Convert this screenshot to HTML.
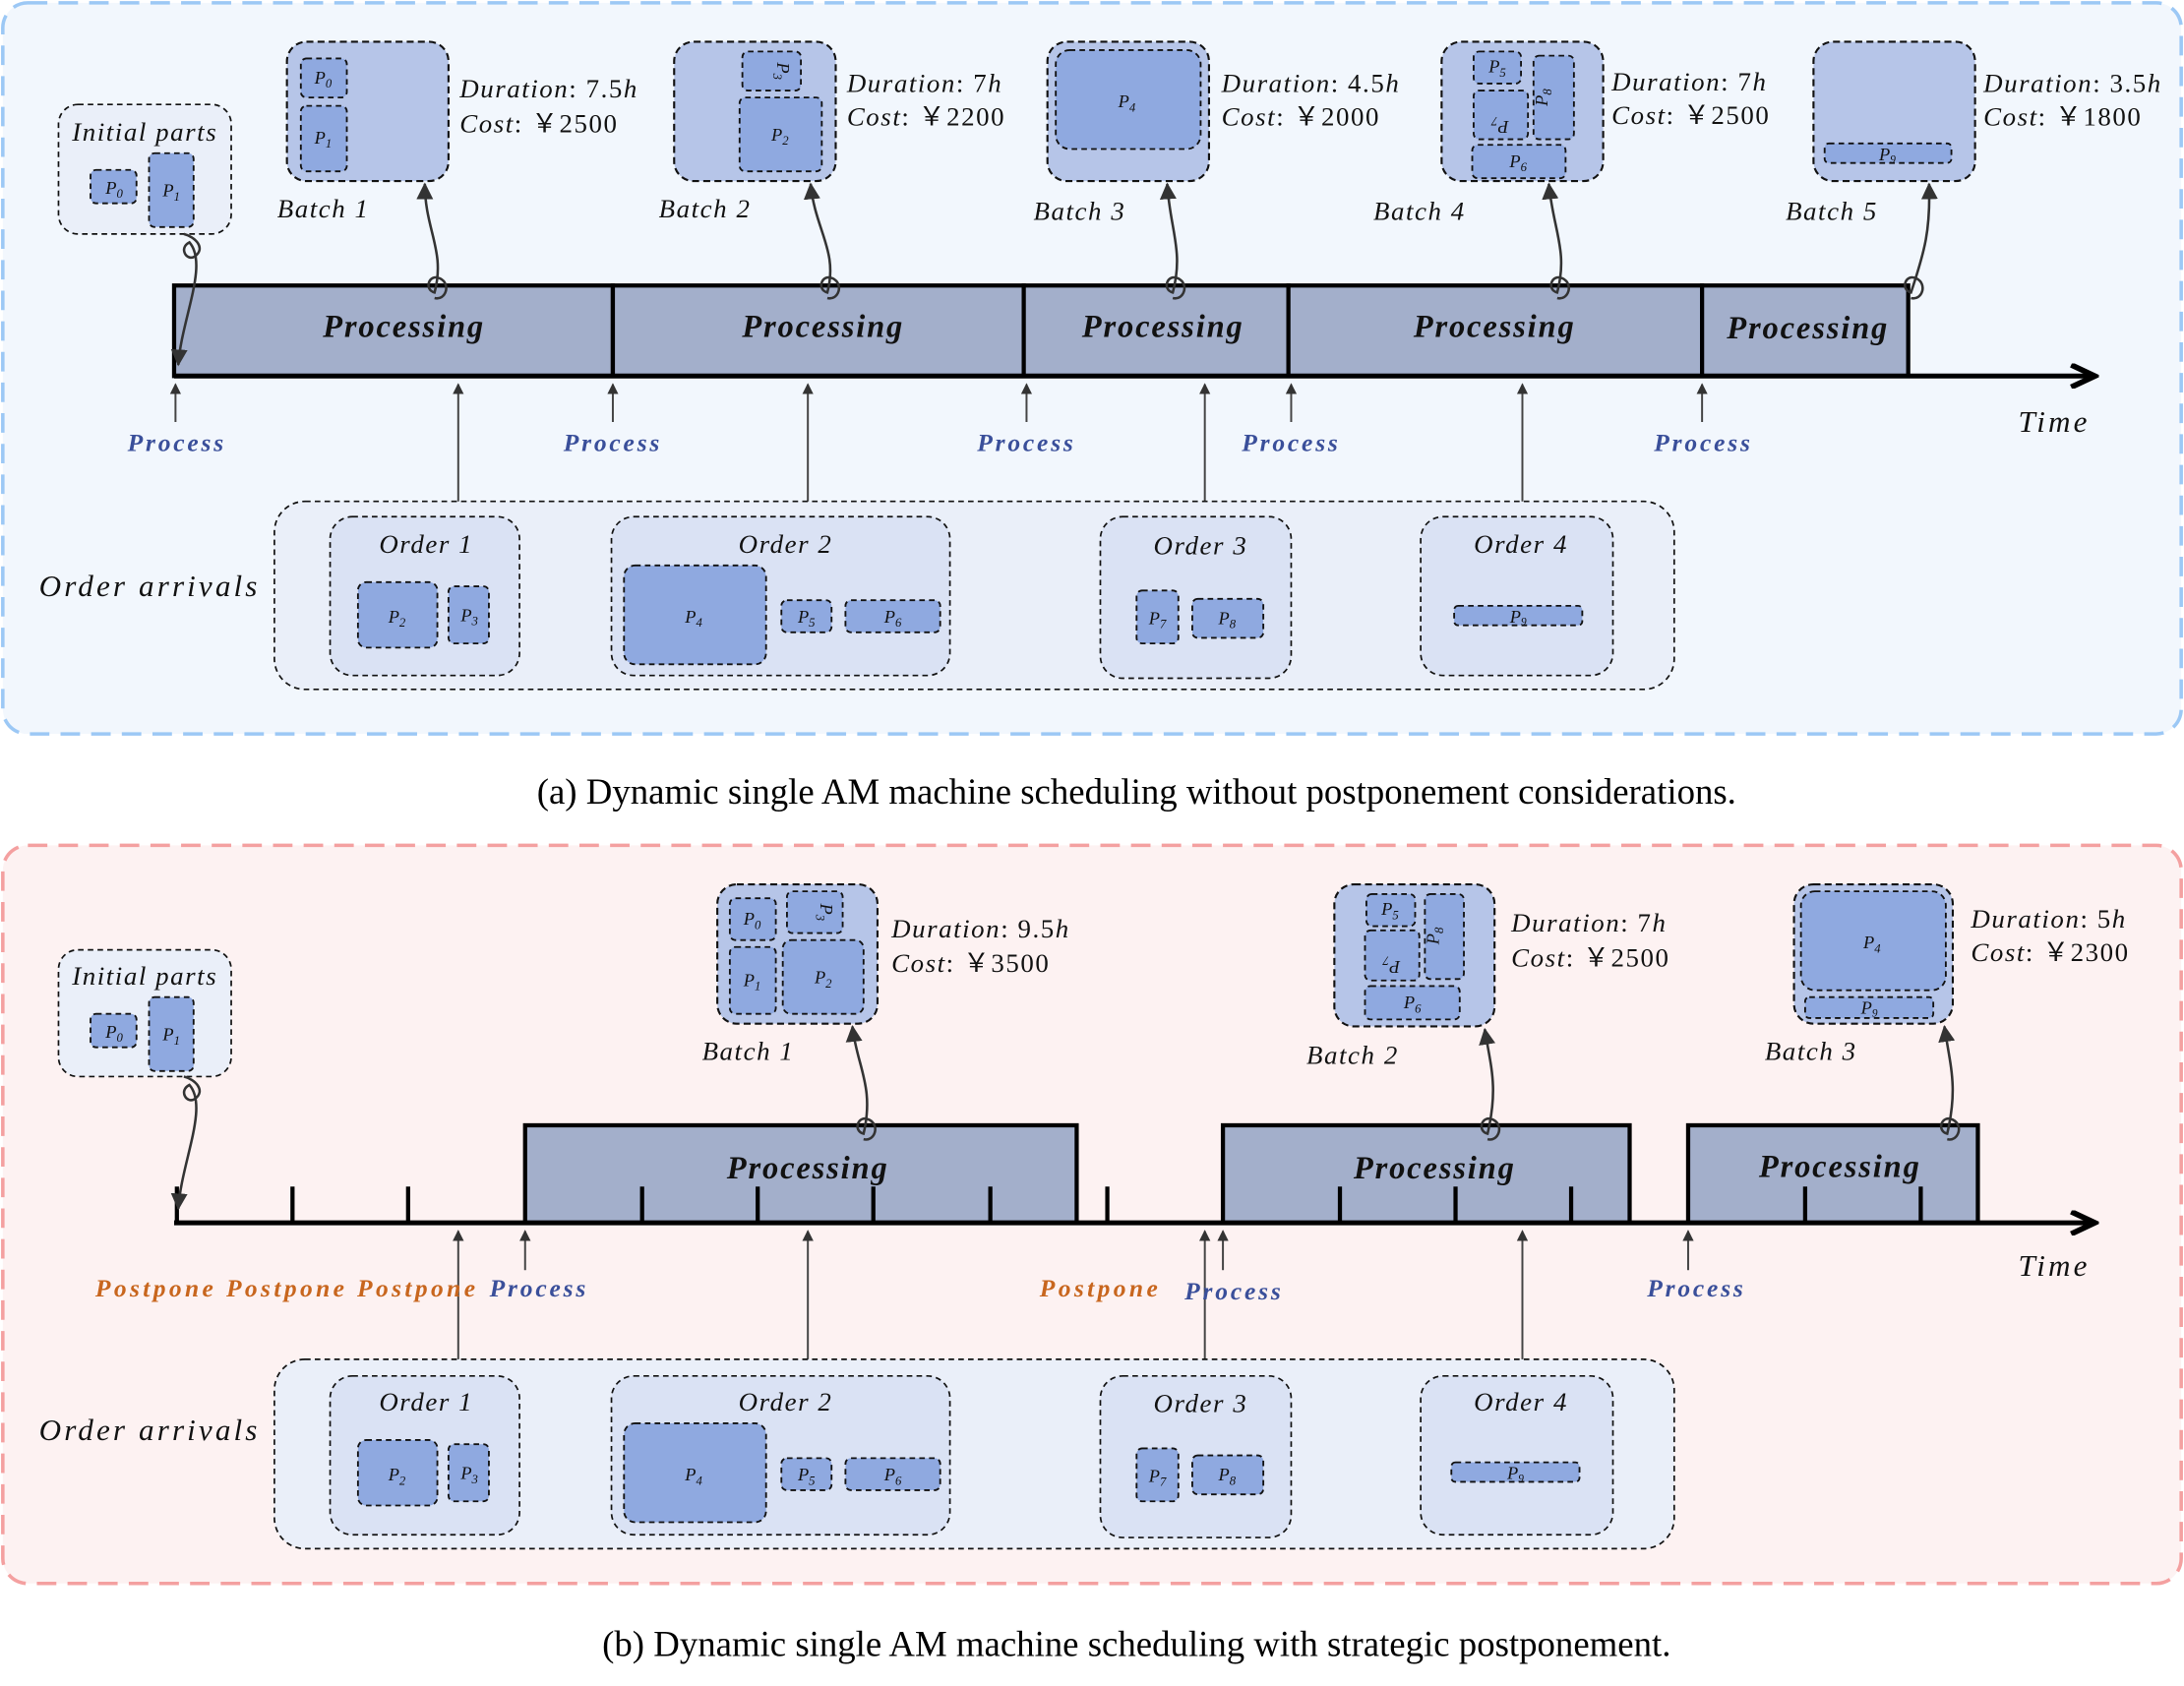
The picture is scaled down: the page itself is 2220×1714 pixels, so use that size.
<!DOCTYPE html>
<html><head><meta charset="utf-8"><style>
html,body{margin:0;padding:0;background:#fff;}
svg{display:block;}
text{font-family:"Liberation Serif",serif;}
.lab{font-style:italic;font-size:19px;fill:#111;letter-spacing:1.1px;}
.pt{font-style:italic;font-size:13px;fill:#111;text-anchor:middle;}
.proc{font-style:italic;font-weight:bold;font-size:23px;fill:#111;text-anchor:middle;letter-spacing:1.3px;}
.pb{font-style:italic;font-weight:bold;font-size:18px;fill:#3a4f9a;text-anchor:middle;letter-spacing:2px;}
.po{font-style:italic;font-weight:bold;font-size:18px;fill:#c8661e;text-anchor:middle;letter-spacing:2.4px;}
.part{fill:#8fa9e0;stroke:#111;stroke-width:1.3;stroke-dasharray:4 3;}
.bat{fill:#b6c5e8;stroke:#111;stroke-width:1.5;stroke-dasharray:5 3;}
.ord{fill:#dae2f4;stroke:#111;stroke-width:1.2;stroke-dasharray:4 3;}
.oa{fill:#eaeff9;stroke:#111;stroke-width:1.2;stroke-dasharray:4 3;}
.bar{fill:#a3afcb;stroke:#000;stroke-width:3;}
.ax{stroke:#000;stroke-width:3.5;fill:none;}
.ar{stroke:#444;stroke-width:1.4;fill:none;}
.cur{stroke:#333;stroke-width:1.8;fill:none;}
.cap{font-size:26px;text-anchor:middle;}
.big{font-style:italic;font-size:22px;fill:#111;letter-spacing:2.2px;}
</style></head><body>
<svg width="2220" height="1714" viewBox="0 0 1568 1210.6" xmlns="http://www.w3.org/2000/svg">
<defs>
<marker id="ah" markerWidth="8" markerHeight="8" refX="7" refY="4" orient="auto" markerUnits="userSpaceOnUse"><path d="M0,0 L8,4 L0,8 Z" fill="#333"/></marker>
<marker id="bh" markerWidth="12" markerHeight="12" refX="11" refY="6" orient="auto" markerUnits="userSpaceOnUse"><path d="M0,0 L12,6 L0,12 Z" fill="#333"/></marker>
<marker id="tx" markerWidth="22" markerHeight="18" refX="18" refY="9" orient="auto" markerUnits="userSpaceOnUse"><path d="M2,1 L19,9 L2,17" fill="none" stroke="#000" stroke-width="4"/></marker>
</defs>

<!-- Panel A -->
<rect x="2" y="2" width="1564" height="525" rx="18" fill="#f2f7fd" stroke="#9cc8f5" stroke-width="2.5" stroke-dasharray="14 8"/>
<text class="cap" x="816" y="577">(a) Dynamic single AM machine scheduling without postponement considerations.</text>

<rect class="oa" x="42" y="75" width="124" height="93" rx="14"/>
<text class="lab" x="104" y="101" text-anchor="middle">Initial parts</text>
<rect class="part" x="65" y="122" width="33" height="24" rx="4"/><text class="pt" x="82" y="139">P<tspan font-size="9" dy="3">0</tspan></text>
<rect class="part" x="107" y="110" width="32" height="53" rx="4"/><text class="pt" x="123" y="141">P<tspan font-size="9" dy="3">1</tspan></text>

<rect class="bar" x="125" y="205" width="315" height="65"/>
<rect class="bar" x="440" y="205" width="295" height="65"/>
<rect class="bar" x="735" y="205" width="190" height="65"/>
<rect class="bar" x="925" y="205" width="297" height="65"/>
<rect class="bar" x="1222" y="205" width="148" height="65"/>
<line class="ax" x1="125" y1="270" x2="1503" y2="270" marker-end="url(#tx)"/>
<text class="proc" x="290" y="242">Processing</text>
<text class="proc" x="591" y="242">Processing</text>
<text class="proc" x="835" y="242">Processing</text>
<text class="proc" x="1073" y="242">Processing</text>
<text class="proc" x="1298" y="243">Processing</text>
<text class="big" x="1449" y="310">Time</text>
<g class="ar">
<line x1="126" y1="303" x2="126" y2="276" marker-end="url(#ah)"/>
<line x1="440" y1="303" x2="440" y2="276" marker-end="url(#ah)"/>
<line x1="737" y1="303" x2="737" y2="276" marker-end="url(#ah)"/>
<line x1="927" y1="303" x2="927" y2="276" marker-end="url(#ah)"/>
<line x1="1222" y1="303" x2="1222" y2="276" marker-end="url(#ah)"/>
<line x1="329" y1="370" x2="329" y2="276" marker-end="url(#ah)"/>
<line x1="580" y1="370" x2="580" y2="276" marker-end="url(#ah)"/>
<line x1="865" y1="370" x2="865" y2="276" marker-end="url(#ah)"/>
<line x1="1093" y1="370" x2="1093" y2="276" marker-end="url(#ah)"/>
</g>
<text class="pb" x="127" y="324">Process</text>
<text class="pb" x="440" y="324">Process</text>
<text class="pb" x="737" y="324">Process</text>
<text class="pb" x="927" y="324">Process</text>
<text class="pb" x="1223" y="324">Process</text>

<path class="cur" d="M132 168 c 8 2 16 10 8 16 c -6 4 -12 -6 -4 -10 C 150 190, 130 230, 128 262" marker-end="url(#bh)"/>
<path class="cur" d="M312 214 c 8 2 12 -10 4 -14 c -8 -4 -12 8 -4 10 C 320 180, 305 165, 305 132" marker-end="url(#bh)"/>
<path class="cur" d="M594 214 c 8 2 12 -10 4 -14 c -8 -4 -12 8 -4 10 C 602 180, 585 165, 582 132" marker-end="url(#bh)"/>
<path class="cur" d="M842 214 c 8 2 12 -10 4 -14 c -8 -4 -12 8 -4 10 C 850 180, 840 165, 838 132" marker-end="url(#bh)"/>
<path class="cur" d="M1118 214 c 8 2 12 -10 4 -14 c -8 -4 -12 8 -4 10 C 1126 180, 1115 165, 1112 132" marker-end="url(#bh)"/>
<path class="cur" d="M1372 214 c 8 2 12 -10 4 -14 c -8 -4 -12 8 -4 10 C 1382 180, 1386 165, 1385 132" marker-end="url(#bh)"/>

<rect class="bat" x="206" y="30" width="116" height="100" rx="14"/>
<rect class="part" x="216" y="42" width="33" height="28" rx="4"/><text class="pt" x="232" y="60">P<tspan font-size="9" dy="3">0</tspan></text>
<rect class="part" x="216" y="76" width="33" height="47" rx="4"/><text class="pt" x="232" y="103">P<tspan font-size="9" dy="3">1</tspan></text>
<text class="lab" x="330" y="70">Duration<tspan font-style="normal">: 7.5</tspan>h</text>
<text class="lab" x="330" y="95">Cost<tspan font-style="normal">: ￥2500</tspan></text>
<text class="lab" x="199" y="156">Batch 1</text>

<rect class="bat" x="484" y="30" width="116" height="100" rx="14"/>
<rect class="part" x="533" y="37" width="42" height="28" rx="4"/><text class="pt" x="554" y="47" transform="rotate(90 554 51)">P<tspan font-size="9" dy="3">3</tspan></text>
<rect class="part" x="531" y="70" width="59" height="53" rx="4"/><text class="pt" x="560" y="101">P<tspan font-size="9" dy="3">2</tspan></text>
<text class="lab" x="608" y="66">Duration<tspan font-style="normal">: 7</tspan>h</text>
<text class="lab" x="608" y="90">Cost<tspan font-style="normal">: ￥2200</tspan></text>
<text class="lab" x="473" y="156">Batch 2</text>

<rect class="bat" x="752" y="30" width="116" height="100" rx="14"/>
<rect class="part" x="758" y="36" width="104" height="71" rx="10"/><text class="pt" x="809" y="77">P<tspan font-size="9" dy="3">4</tspan></text>
<text class="lab" x="877" y="66">Duration<tspan font-style="normal">: 4.5</tspan>h</text>
<text class="lab" x="877" y="90">Cost<tspan font-style="normal">: ￥2000</tspan></text>
<text class="lab" x="742" y="158">Batch 3</text>

<rect class="bat" x="1035" y="30" width="116" height="100" rx="14"/>
<rect class="part" x="1058" y="37" width="34" height="23" rx="4"/><text class="pt" x="1075" y="52">P<tspan font-size="9" dy="3">5</tspan></text>
<rect class="part" x="1058" y="65" width="39" height="35" rx="4"/><text class="pt" x="1077" y="79" transform="rotate(180 1077 83)">P<tspan font-size="9" dy="3">7</tspan></text>
<rect class="part" x="1101" y="40" width="29" height="60" rx="4"/><text class="pt" x="1115" y="66" transform="rotate(-90 1115 70)">P<tspan font-size="9" dy="3">8</tspan></text>
<rect class="part" x="1057" y="104" width="67" height="24" rx="4"/><text class="pt" x="1090" y="120">P<tspan font-size="9" dy="3">6</tspan></text>
<text class="lab" x="1157" y="65">Duration<tspan font-style="normal">: 7</tspan>h</text>
<text class="lab" x="1157" y="89">Cost<tspan font-style="normal">: ￥2500</tspan></text>
<text class="lab" x="986" y="158">Batch 4</text>

<rect class="bat" x="1302" y="30" width="116" height="100" rx="14"/>
<rect class="part" x="1310" y="103" width="91" height="14" rx="3"/><text class="pt" x="1355" y="115" font-size="11">P<tspan font-size="8" dy="2">9</tspan></text>
<text class="lab" x="1424" y="66">Duration<tspan font-style="normal">: 3.5</tspan>h</text>
<text class="lab" x="1424" y="90">Cost<tspan font-style="normal">: ￥1800</tspan></text>
<text class="lab" x="1282" y="158">Batch 5</text>

<text class="big" x="28" y="428">Order arrivals</text>
<rect class="oa" x="197" y="360" width="1005" height="135" rx="22"/>
<rect class="ord" x="237" y="371" width="136" height="114" rx="16"/>
<text class="lab" x="306" y="397" text-anchor="middle">Order 1</text>
<rect class="part" x="257" y="418" width="57" height="47" rx="6"/><text class="pt" x="285" y="447">P<tspan font-size="9" dy="3">2</tspan></text>
<rect class="part" x="322" y="421" width="29" height="41" rx="4"/><text class="pt" x="337" y="446">P<tspan font-size="9" dy="3">3</tspan></text>
<rect class="ord" x="439" y="371" width="243" height="114" rx="16"/>
<text class="lab" x="564" y="397" text-anchor="middle">Order 2</text>
<rect class="part" x="448" y="406" width="102" height="71" rx="8"/><text class="pt" x="498" y="447">P<tspan font-size="9" dy="3">4</tspan></text>
<rect class="part" x="561" y="431" width="36" height="23" rx="4"/><text class="pt" x="579" y="447">P<tspan font-size="9" dy="3">5</tspan></text>
<rect class="part" x="607" y="431" width="68" height="23" rx="4"/><text class="pt" x="641" y="447">P<tspan font-size="9" dy="3">6</tspan></text>
<rect class="ord" x="790" y="371" width="137" height="116" rx="16"/>
<text class="lab" x="862" y="398" text-anchor="middle">Order 3</text>
<rect class="part" x="816" y="424" width="30" height="38" rx="4"/><text class="pt" x="831" y="448">P<tspan font-size="9" dy="3">7</tspan></text>
<rect class="part" x="856" y="430" width="51" height="28" rx="4"/><text class="pt" x="881" y="448">P<tspan font-size="9" dy="3">8</tspan></text>
<rect class="ord" x="1020" y="371" width="138" height="114" rx="16"/>
<text class="lab" x="1092" y="397" text-anchor="middle">Order 4</text>
<rect class="part" x="1044" y="435" width="92" height="14" rx="3"/><text class="pt" x="1090" y="447" font-size="11">P<tspan font-size="8" dy="2">9</tspan></text>

<!-- Panel B -->
<rect x="2" y="607" width="1564" height="530" rx="18" fill="#fdf2f2" stroke="#f4a0a0" stroke-width="2.5" stroke-dasharray="14 8"/>
<text class="cap" x="816" y="1189">(b) Dynamic single AM machine scheduling with strategic postponement.</text>

<rect class="oa" x="42" y="682" width="124" height="91" rx="14"/>
<text class="lab" x="104" y="707" text-anchor="middle">Initial parts</text>
<rect class="part" x="65" y="728" width="33" height="24" rx="4"/><text class="pt" x="82" y="745">P<tspan font-size="9" dy="3">0</tspan></text>
<rect class="part" x="107" y="716" width="32" height="53" rx="4"/><text class="pt" x="123" y="747">P<tspan font-size="9" dy="3">1</tspan></text>

<rect class="bar" x="377" y="808" width="396" height="70"/>
<rect class="bar" x="878" y="808" width="292" height="70"/>
<rect class="bar" x="1212" y="808" width="208" height="70"/>
<line class="ax" x1="125" y1="878" x2="1503" y2="878" marker-end="url(#tx)"/>
<g stroke="#000" stroke-width="3">
<line x1="127" y1="852" x2="127" y2="878"/><line x1="210" y1="852" x2="210" y2="878"/><line x1="293" y1="852" x2="293" y2="878"/><line x1="795" y1="852" x2="795" y2="878"/>
<line x1="461" y1="852" x2="461" y2="878"/><line x1="544" y1="852" x2="544" y2="878"/><line x1="627" y1="852" x2="627" y2="878"/><line x1="711" y1="852" x2="711" y2="878"/>
<line x1="962" y1="852" x2="962" y2="878"/><line x1="1045" y1="852" x2="1045" y2="878"/><line x1="1128" y1="852" x2="1128" y2="878"/>
<line x1="1296" y1="852" x2="1296" y2="878"/><line x1="1379" y1="852" x2="1379" y2="878"/>
</g>
<text class="proc" x="580" y="846">Processing</text>
<text class="proc" x="1030" y="846">Processing</text>
<text class="proc" x="1321" y="845">Processing</text>
<text class="big" x="1449" y="916">Time</text>
<g class="ar">
<line x1="377" y1="912" x2="377" y2="884" marker-end="url(#ah)"/>
<line x1="878" y1="912" x2="878" y2="884" marker-end="url(#ah)"/>
<line x1="1212" y1="912" x2="1212" y2="884" marker-end="url(#ah)"/>
<line x1="329" y1="986" x2="329" y2="884" marker-end="url(#ah)"/>
<line x1="580" y1="986" x2="580" y2="884" marker-end="url(#ah)"/>
<line x1="865" y1="986" x2="865" y2="884" marker-end="url(#ah)"/>
<line x1="1093" y1="986" x2="1093" y2="884" marker-end="url(#ah)"/>
</g>
<text class="po" x="112" y="931">Postpone</text>
<text class="po" x="206" y="931">Postpone</text>
<text class="po" x="300" y="931">Postpone</text>
<text class="pb" x="387" y="931">Process</text>
<text class="po" x="790" y="931">Postpone</text>
<text class="pb" x="886" y="933">Process</text>
<text class="pb" x="1218" y="931">Process</text>

<path class="cur" d="M132 773 c 8 2 16 10 8 16 c -6 4 -12 -6 -4 -10 C 150 795, 130 835, 128 868" marker-end="url(#bh)"/>
<path class="cur" d="M620 818 c 8 2 12 -10 4 -14 c -8 -4 -12 8 -4 10 C 628 780, 615 765, 612 737" marker-end="url(#bh)"/>
<path class="cur" d="M1068 818 c 8 2 12 -10 4 -14 c -8 -4 -12 8 -4 10 C 1076 780, 1070 765, 1066 739" marker-end="url(#bh)"/>
<path class="cur" d="M1398 818 c 8 2 12 -10 4 -14 c -8 -4 -12 8 -4 10 C 1406 780, 1400 765, 1396 737" marker-end="url(#bh)"/>

<rect class="bat" x="515" y="635" width="115" height="100" rx="14"/>
<rect class="part" x="524" y="645" width="33" height="30" rx="4"/><text class="pt" x="540" y="664">P<tspan font-size="9" dy="3">0</tspan></text>
<rect class="part" x="565" y="640" width="40" height="30" rx="4"/><text class="pt" x="585" y="651" transform="rotate(90 585 655)">P<tspan font-size="9" dy="3">3</tspan></text>
<rect class="part" x="524" y="680" width="33" height="48" rx="4"/><text class="pt" x="540" y="708">P<tspan font-size="9" dy="3">1</tspan></text>
<rect class="part" x="562" y="675" width="58" height="53" rx="6"/><text class="pt" x="591" y="706">P<tspan font-size="9" dy="3">2</tspan></text>
<text class="lab" x="640" y="673">Duration<tspan font-style="normal">: 9.5</tspan>h</text>
<text class="lab" x="640" y="698">Cost<tspan font-style="normal">: ￥3500</tspan></text>
<text class="lab" x="504" y="761">Batch 1</text>

<rect class="bat" x="958" y="635" width="115" height="102" rx="14"/>
<rect class="part" x="981" y="642" width="35" height="23" rx="4"/><text class="pt" x="998" y="657">P<tspan font-size="9" dy="3">5</tspan></text>
<rect class="part" x="980" y="668" width="39" height="36" rx="4"/><text class="pt" x="999" y="682" transform="rotate(180 999 686)">P<tspan font-size="9" dy="3">7</tspan></text>
<rect class="part" x="1023" y="642" width="28" height="61" rx="4"/><text class="pt" x="1037" y="668" transform="rotate(-90 1037 672)">P<tspan font-size="9" dy="3">8</tspan></text>
<rect class="part" x="980" y="708" width="68" height="24" rx="4"/><text class="pt" x="1014" y="724">P<tspan font-size="9" dy="3">6</tspan></text>
<text class="lab" x="1085" y="669">Duration<tspan font-style="normal">: 7</tspan>h</text>
<text class="lab" x="1085" y="694">Cost<tspan font-style="normal">: ￥2500</tspan></text>
<text class="lab" x="938" y="764">Batch 2</text>

<rect class="bat" x="1288" y="635" width="114" height="100" rx="14"/>
<rect class="part" x="1293" y="640" width="104" height="71" rx="10"/><text class="pt" x="1344" y="681">P<tspan font-size="9" dy="3">4</tspan></text>
<rect class="part" x="1296" y="716" width="92" height="15" rx="3"/><text class="pt" x="1342" y="728" font-size="11">P<tspan font-size="8" dy="2">9</tspan></text>
<text class="lab" x="1415" y="666">Duration<tspan font-style="normal">: 5</tspan>h</text>
<text class="lab" x="1415" y="690">Cost<tspan font-style="normal">: ￥2300</tspan></text>
<text class="lab" x="1267" y="761">Batch 3</text>

<text class="big" x="28" y="1034">Order arrivals</text>
<rect class="oa" x="197" y="976" width="1005" height="136" rx="22"/>
<rect class="ord" x="237" y="988" width="136" height="114" rx="16"/>
<text class="lab" x="306" y="1013" text-anchor="middle">Order 1</text>
<rect class="part" x="257" y="1034" width="57" height="47" rx="6"/><text class="pt" x="285" y="1063">P<tspan font-size="9" dy="3">2</tspan></text>
<rect class="part" x="322" y="1037" width="29" height="41" rx="4"/><text class="pt" x="337" y="1062">P<tspan font-size="9" dy="3">3</tspan></text>
<rect class="ord" x="439" y="988" width="243" height="114" rx="16"/>
<text class="lab" x="564" y="1013" text-anchor="middle">Order 2</text>
<rect class="part" x="448" y="1022" width="102" height="71" rx="8"/><text class="pt" x="498" y="1063">P<tspan font-size="9" dy="3">4</tspan></text>
<rect class="part" x="561" y="1047" width="36" height="23" rx="4"/><text class="pt" x="579" y="1063">P<tspan font-size="9" dy="3">5</tspan></text>
<rect class="part" x="607" y="1047" width="68" height="23" rx="4"/><text class="pt" x="641" y="1063">P<tspan font-size="9" dy="3">6</tspan></text>
<rect class="ord" x="790" y="988" width="137" height="116" rx="16"/>
<text class="lab" x="862" y="1014" text-anchor="middle">Order 3</text>
<rect class="part" x="816" y="1040" width="30" height="38" rx="4"/><text class="pt" x="831" y="1064">P<tspan font-size="9" dy="3">7</tspan></text>
<rect class="part" x="856" y="1045" width="51" height="28" rx="4"/><text class="pt" x="881" y="1063">P<tspan font-size="9" dy="3">8</tspan></text>
<rect class="ord" x="1020" y="988" width="138" height="114" rx="16"/>
<text class="lab" x="1092" y="1013" text-anchor="middle">Order 4</text>
<rect class="part" x="1042" y="1050" width="92" height="14" rx="3"/><text class="pt" x="1088" y="1062" font-size="11">P<tspan font-size="8" dy="2">9</tspan></text>
</svg>
</body></html>
